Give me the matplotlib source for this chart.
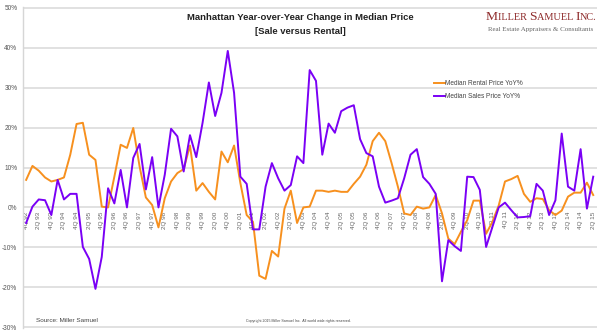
import matplotlib
matplotlib.use("Agg")
import matplotlib.pyplot as plt
import numpy as np
from matplotlib.offsetbox import TextArea, HPacker, AnchoredOffsetbox

plt.rcParams['font.family'] = ['Liberation Sans', 'DejaVu Sans']

# Quarterly YoY % change, 4Q 92 .. 2Q 15
rental = [6.9, 10.4, 9.2, 7.5, 6.5, 6.9, 7.5, 13.2, 20.9, 21.2,
          13.2, 11.9, 0.2, 0.0, 7.7, 15.7, 14.9, 19.9, 10.3, 2.5,
          0.6, -5.0, 2.3, 6.5, 8.6, 9.6, 15.5, 4.2, 6.1, 3.9,
          2.0, 14.0, 11.3, 15.5, 6.1, -1.9, -3.6, -17.1, -17.9, -10.9,
          -12.3, -0.3, 4.2, -3.9, 0.0, 0.2, 4.2, 4.2, 3.9, 4.2,
          3.9, 3.9, 5.9, 7.7, 10.7, 16.6, 18.7, 16.6, 11.1, 5.2,
          -1.5, -1.9, 0.2, -0.3, 0.0, 3.1, -1.5, -7.8, -9.2, -6.1,
          -3.2, 1.7, 1.7, -6.6, -3.6, 0.5, 6.5, 7.1, 7.9, 3.4,
          1.4, 2.3, 2.1, -0.7, -1.9, -0.8, 2.7, 3.7, 3.7, 6.2,
          3.1]

sales = [-3.9, 0.2, 2.0, 1.8, -1.9, 6.9, 2.0, 3.4, 3.4, -9.9,
         -12.9, -20.4, -12.4, 4.8, 1.0, 9.4, 0.0, 12.4, 15.9, 4.5,
         12.6, 0.0, 8.2, 19.7, 17.8, 9.0, 18.1, 12.6, 21.2, 31.3,
         22.9, 28.7, 39.2, 28.7, 7.7, 5.9, -5.5, -5.5, 5.2, 11.1,
         7.3, 4.2, 5.6, 12.8, 11.1, 34.4, 31.7, 13.2, 21.0, 18.7,
         24.1, 25.0, 25.6, 17.1, 13.6, 12.8, 5.2, 1.2, 1.7, 2.3,
         7.3, 13.2, 14.6, 7.6, 5.9, 3.4, -18.5, -8.2, -9.7, -10.9,
         7.7, 7.6, 4.4, -9.9, -4.9, 0.0, 1.2, -0.7, -2.5, -2.4,
         -2.2, 5.9, 4.2, -1.9, 1.8, 18.5, 5.2, 4.2, 14.6, -0.3,
         7.7]

tick_labels = ["4Q 92", "2Q 93", "4Q 93", "2Q 94", "4Q 94", "2Q 95", "4Q 95",
               "2Q 96", "4Q 96", "2Q 97", "4Q 97", "2Q 98", "4Q 98", "2Q 99",
               "4Q 99", "2Q 00", "4Q 00", "2Q 01", "4Q 01", "2Q 02", "4Q 02",
               "2Q 03", "4Q 03", "2Q 04", "4Q 04", "2Q 05", "4Q 05", "2Q 06",
               "4Q 06", "2Q 07", "4Q 07", "2Q 08", "4Q 08", "2Q 09", "4Q 09",
               "2Q 10", "4Q 10", "2Q 11", "4Q 11", "2Q 12", "4Q 12", "2Q 13",
               "4Q 13", "2Q 14", "4Q 14", "2Q 15"]
y_ticks = [-30, -20, -10, 0, 10, 20, 30, 40, 50]

ORANGE = "#F7901E"
PURPLE = "#7A00F5"
GRID = "#dedede"

fig = plt.figure(figsize=(6.0, 3.36), dpi=100)
ax = fig.add_axes([23/600, 1 - 328/336, 574/600, 321/336])

x = np.arange(len(rental))
ax.plot(x, rental, color=ORANGE, lw=1.4, label="Median Rental Price YoY%", zorder=3)
ax.plot(x, sales, color=PURPLE, lw=1.4, label="Median Sales Price YoY%", zorder=4)

ax.set_ylim(-30.2, 50.2)
ax.set_xlim(-0.5, 90.6)
ax.set_yticks(y_ticks)
ax.set_yticklabels([f"{v}%" for v in y_ticks], fontsize=4.7, color="#555555")
ax.set_xticks([])
ax.tick_params(axis="y", length=0, pad=4)
for v in y_ticks:
    ax.axhline(v, color=GRID, lw=1.3, zorder=1)
for s in ["top", "right", "bottom"]:
    ax.spines[s].set_visible(False)
ax.spines["left"].set_color("#d6d6d6")
ax.spines["left"].set_linewidth(1.0)

tick_pos = x[::2]
for pos, lab in zip(tick_pos, tick_labels):
    ax.text(pos, -1.0, lab, rotation=90, ha="center", va="top",
            fontsize=4.6, color="#666666", zorder=2)

fig.text(0.5, 1 - 17/336, "Manhattan Year-over-Year Change in Median Price",
         ha="center", va="center", fontsize=6.8, fontweight="bold", color="#222222")
fig.text(0.5, 1 - 32/336, "[Sale versus Rental]",
         ha="center", va="center", fontsize=6.8, fontweight="bold", color="#222222")

# Logo in faux small caps
red = "#8E2A2A"
big = dict(fontsize=9.7, color=red, family="Liberation Serif")
small = dict(fontsize=7.4, color=red, family="Liberation Serif")
parts = [("M", big), ("ILLER ", small), ("S", big), ("AMUEL ", small), ("I", big), ("NC.", small)]
boxes = [TextArea(t, textprops=p) for t, p in parts]
pack = HPacker(children=boxes, align="baseline", pad=0, sep=0)
ab = AnchoredOffsetbox(loc="center left", child=pack, frameon=False,
                       bbox_to_anchor=(486/600, 1 - 17/336), bbox_transform=fig.transFigure,
                       borderpad=0, pad=0)
fig.add_artist(ab)
fig.text(488/600, 1 - 29/336, "Real Estate Appraisers & Consultants",
         ha="left", va="center", fontsize=5.0, color="#666666", family="Liberation Serif")

leg = ax.legend(loc="upper left", bbox_to_anchor=(453/600 - 23/600, 1 - (80 - 7)/321),
                bbox_transform=ax.transAxes, frameon=False, fontsize=4.7,
                handlelength=1.6, handletextpad=0.1, labelspacing=0.9,
                borderpad=0, borderaxespad=0)
for t in leg.get_texts():
    t.set_color("#444444")

fig.text(36/600, 1 - 320/336, "Source: Miller Samuel", ha="left", va="center",
         fontsize=4.6, color="#444444")
fig.text(298/600, 1 - 321/336,
         "Copyright 2015 Miller Samuel Inc.  All world wide rights reserved.",
         ha="center", va="center", fontsize=2.6, color="#444444")

fig.savefig("out.png", dpi=100, facecolor="white")
